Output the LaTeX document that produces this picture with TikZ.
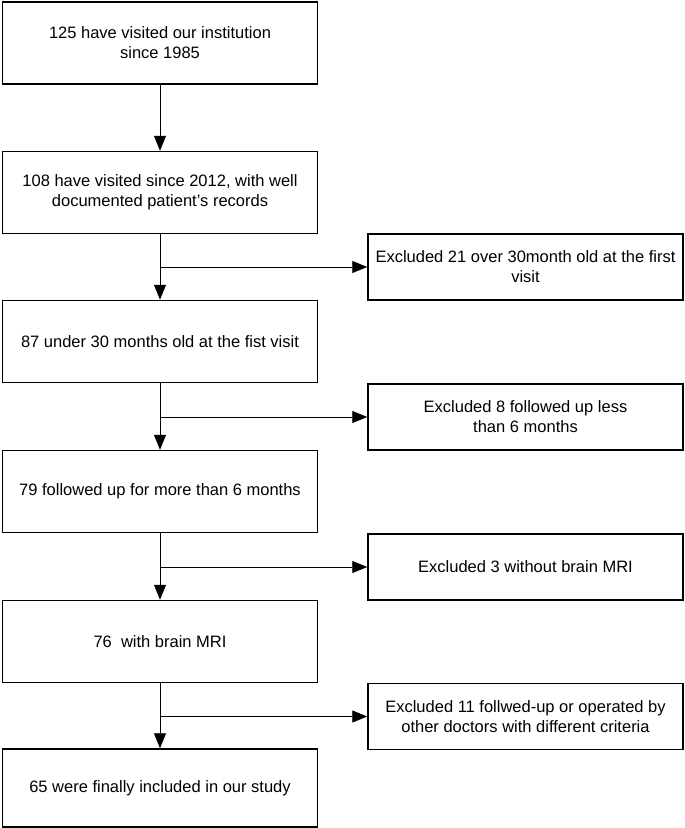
\documentclass[tikz,border=0pt]{standalone}
\usepackage{fontspec}
\setmainfont{Liberation Sans}
\usetikzlibrary{arrows.meta,positioning}
\tikzset{
    mainbox/.style={draw, line width=1.5pt, minimum width=315pt, minimum height=82pt,
        align=center, inner sep=2pt, font=\fontsize{16.5}{20}\selectfont},
    exbox/.style={draw, line width=1.5pt, minimum width=315pt, minimum height=66pt,
        align=center, inner sep=2pt, font=\fontsize{16.5}{20}\selectfont},
    flow/.style={-{Triangle[length=15pt,width=12pt]}, line width=0.9pt},
}
\begin{document}
\begin{tikzpicture}[x=1pt,y=-1pt]
    \useasboundingbox (0,0) rectangle (685,828);
    % main column
    \foreach \i/\yy/\txt in {1/43/{125 have visited our institution\\since 1985},
        2/192.5/{108 have visited since 2012, with well\\documented patient's records},
        3/341.5/{87 under 30 months old at the fist visit},
        4/491.5/{79 followed up for more than 6 months},
        5/641.5/{76\ \ with brain MRI}} {
        \node[mainbox] (b\i) at (160,\yy) {\txt};
    }
    \node[mainbox, minimum height=78pt] (b6) at (160,788) {65 were finally included in our study};
    % excluded
    \foreach \k/\yy/\txt in {1/267/{Excluded 21 over 30month old at the first\\visit},
        2/417/{Excluded 8 followed up less\\than 6 months},
        3/567/{Excluded 3 without brain MRI},
        4/716.5/{Excluded 11 follwed-up or operated by\\other doctors with different criteria}} {
        \node[exbox] (r\k) at (525.5,\yy) {\txt};
    }
    \foreach \i [count=\j from 2] in {1,...,5}
        \draw[flow] (b\i) -- (b\j);
    \foreach \i/\k in {2/1,3/2,4/3,5/4}
        \draw[flow] (b\i.south |- r\k.west) -- (r\k.west);
\end{tikzpicture}
\end{document}
